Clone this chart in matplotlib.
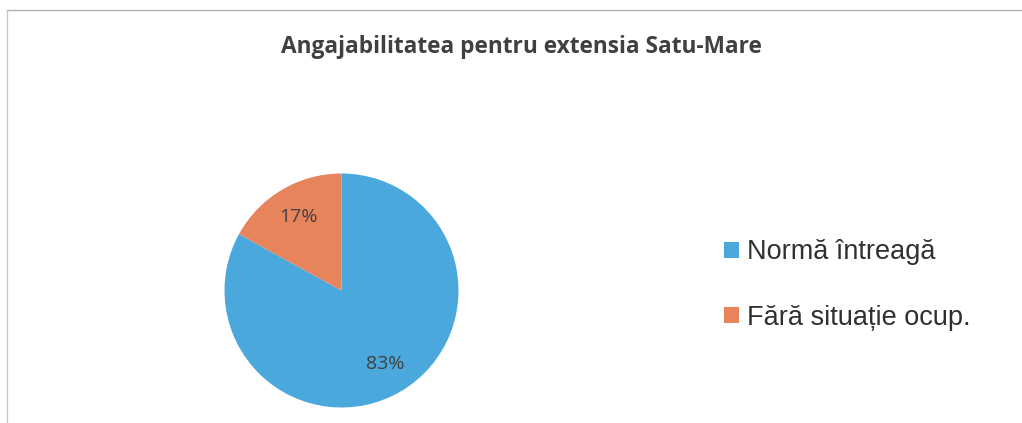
import matplotlib.pyplot as plt

labels = ['Normă întreagă', 'Fără situație ocup.']
values = [83, 17]
colors = ['#4BA8DD', '#E8845C']
title = 'Angajabilitatea pentru extensia Satu-Mare'

W, H = 1022, 423
fig = plt.figure(figsize=(W / 100, H / 100), dpi=100)

# thin scanned frame (top + left)
fig.add_artist(plt.Line2D([7 / W, 1], [1 - 10 / H, 1 - 10 / H], color='#b0b0b0', lw=1))
fig.add_artist(plt.Line2D([7 / W, 7 / W], [0, 1 - 10 / H], color='#c8c8c8', lw=1))

fig.text(521 / W, 1 - 47 / H, title, ha='center', va='center',
         fontsize=16.3, fontweight='bold', color='#404040', family='Open Sans')

cx, cy, r = 341.5, H - 290.5, 117
ax = fig.add_axes([(cx - r) / W, (cy - r) / H, 2 * r / W, 2 * r / H])
wedges, texts, autotexts = ax.pie(values, colors=colors, startangle=90, counterclock=False,
                                  autopct='%1.0f%%', pctdistance=0.73, radius=1,
                                  wedgeprops=dict(linewidth=0),
                                  textprops=dict(fontsize=14, color='#404040', family='Open Sans'))
ax.set_xlim(-1, 1)
ax.set_ylim(-1, 1)
ax.set_aspect('equal')
ax.axis('off')

fig.legend(wedges, labels, loc='center left', bbox_to_anchor=(700 / W, 1 - 285 / H),
           frameon=False, prop=dict(family='Liberation Sans', size=19.5),
           handlelength=0.55, handleheight=0.55, handletextpad=0.3, labelspacing=1.45,
           labelcolor='#303030')

fig.savefig('out.png', dpi=100, facecolor='white')
